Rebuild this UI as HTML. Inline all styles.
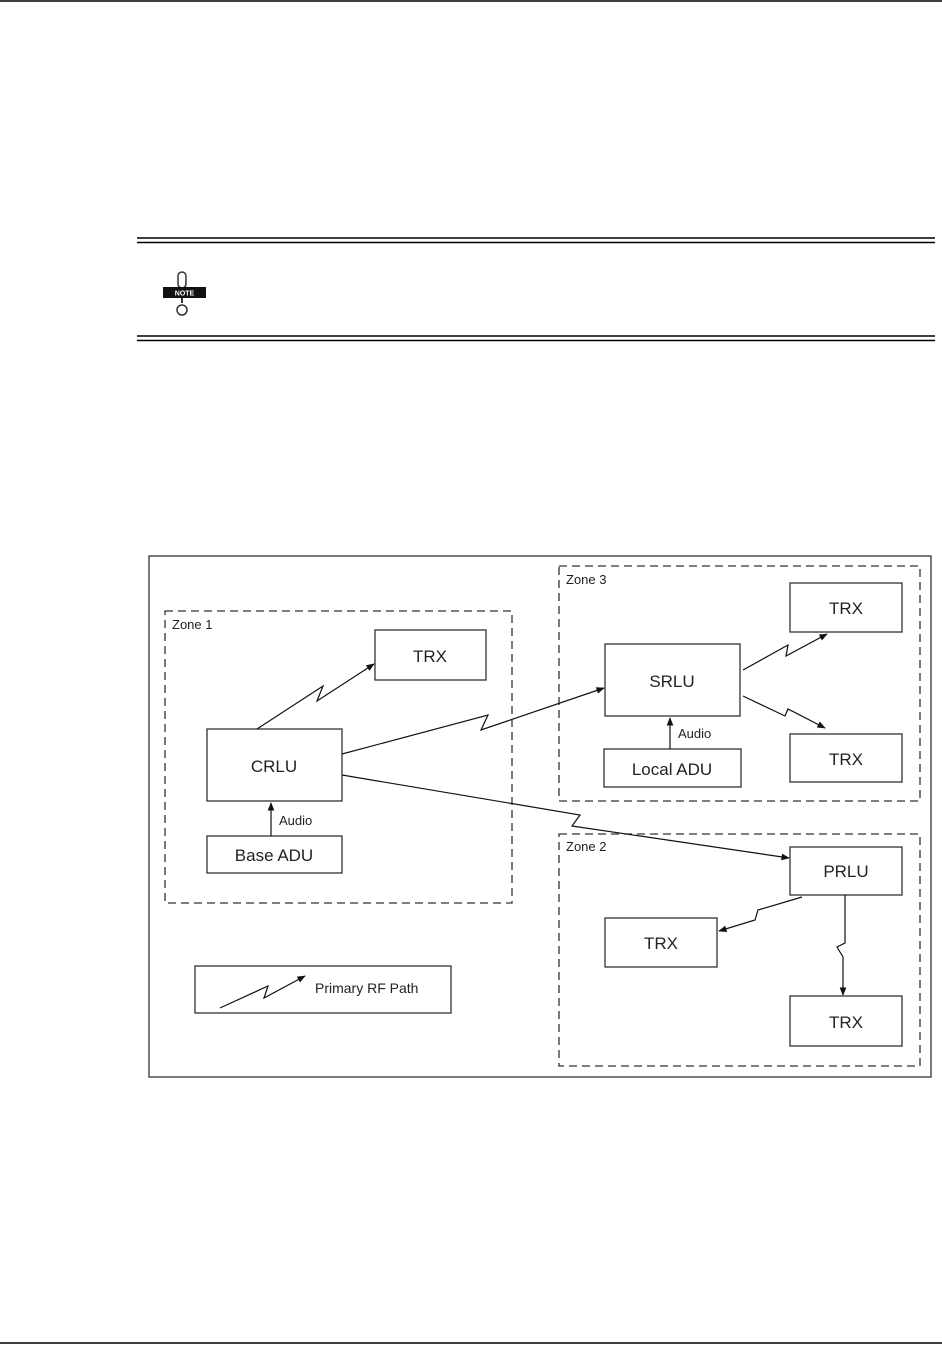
<!DOCTYPE html>
<html><head><style>
html,body{margin:0;padding:0;background:#fff;width:942px;height:1345px;overflow:hidden}
svg{display:block}
text{font-family:"Liberation Sans",Arial,sans-serif;fill:#222}
</style></head><body>
<svg width="942" height="1345" viewBox="0 0 942 1345" xmlns="http://www.w3.org/2000/svg">
<defs><marker id="a" viewBox="0 0 10 10" refX="9" refY="5" markerWidth="7" markerHeight="7" orient="auto"><path d="M0,1 L10,5 L0,9 z" fill="#111"/></marker></defs>
<line x1="0" y1="1" x2="942" y2="1" stroke="#000" stroke-width="1.5"/>
<line x1="0" y1="1343" x2="942" y2="1343" stroke="#000" stroke-width="1.5"/>
<g stroke="#000" stroke-width="1.5">
<line x1="137" y1="238" x2="935" y2="238"/><line x1="137" y1="242.5" x2="935" y2="242.5"/>
<line x1="137" y1="336" x2="935" y2="336"/><line x1="137" y1="340.5" x2="935" y2="340.5"/>
</g>
<!-- note icon -->
<rect x="178" y="272" width="8" height="16" rx="4" fill="none" stroke="#333" stroke-width="1.5"/>
<rect x="163" y="287" width="43" height="11" fill="#111"/>
<text x="184.5" y="295.5" font-size="7" font-weight="bold" text-anchor="middle" style="fill:#fff">NOTE</text>
<line x1="182" y1="298" x2="182" y2="303" stroke="#333" stroke-width="2"/>
<circle cx="182" cy="310" r="5" fill="none" stroke="#333" stroke-width="1.5"/>
<g fill="none" stroke="#333" stroke-width="1.3">
<rect x="149" y="556" width="782" height="521"/>
<g stroke-dasharray="8,5"><rect x="559" y="566" width="361" height="235"/><rect x="165" y="611" width="347" height="292"/><rect x="559" y="834" width="361" height="232"/></g>
<rect x="375" y="630" width="111" height="50"/>
<rect x="207" y="729" width="135" height="72"/>
<rect x="207" y="836" width="135" height="37"/>
<rect x="605" y="644" width="135" height="72"/>
<rect x="604" y="749" width="137" height="38"/>
<rect x="790" y="583" width="112" height="49"/>
<rect x="790" y="734" width="112" height="48"/>
<rect x="790" y="847" width="112" height="48"/>
<rect x="605" y="918" width="112" height="49"/>
<rect x="790" y="996" width="112" height="50"/>
<rect x="195" y="966" width="256" height="47"/>
</g>
<g fill="none" stroke="#111" stroke-width="1.2" marker-end="url(#a)">
<polyline points="257,729 323,686 317,701 374,664"/>
<polyline points="342,754 488,715 481,730 604,688"/>
<polyline points="342,775 580,815 572,826 789,858"/>
<polyline points="743,670 788,645 786,656 827,634"/>
<polyline points="743,696 785,716 788,709 825,728"/>
<polyline points="802,897 758,910 755,920 719,931"/>
<polyline points="845,895 845,943 837,947 843,957 843,995"/>
<polyline points="220,1008 268,986 264,998 305,976"/>
<line x1="271" y1="836" x2="271" y2="803"/>
<line x1="670" y1="749" x2="670" y2="718"/>
</g>
<g font-size="17" text-anchor="middle">
<text x="430" y="662">TRX</text><text x="274" y="772">CRLU</text><text x="274" y="861">Base ADU</text>
<text x="672" y="687">SRLU</text><text x="672" y="775">Local ADU</text>
<text x="846" y="614">TRX</text><text x="846" y="765">TRX</text><text x="846" y="877">PRLU</text>
<text x="661" y="949">TRX</text><text x="846" y="1028">TRX</text>
</g>
<g font-size="13"><text x="172" y="629">Zone 1</text><text x="566" y="584">Zone 3</text><text x="566" y="851">Zone 2</text>
<text x="279" y="825">Audio</text><text x="678" y="738">Audio</text><text x="315" y="993" font-size="14">Primary RF Path</text></g>
</svg>
</body></html>
